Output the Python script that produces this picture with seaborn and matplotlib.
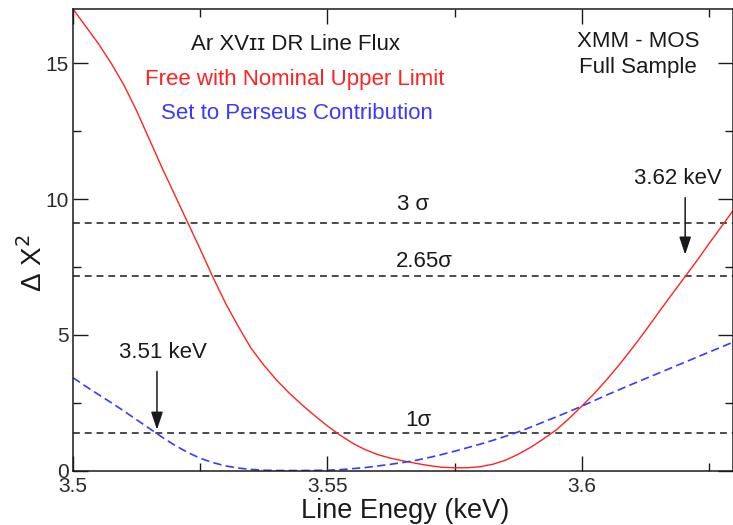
import matplotlib
matplotlib.use("Agg")
import matplotlib.pyplot as plt
import seaborn as sns
import pandas as pd
from matplotlib.ticker import FixedLocator

# ---------------- data ----------------
energy_red = [3.5000, 3.5025, 3.5050, 3.5075, 3.5100, 3.5125, 3.5150, 3.5175,
              3.5200, 3.5225, 3.5250, 3.5275, 3.5300, 3.5325, 3.5350, 3.5375,
              3.5400, 3.5425, 3.5450, 3.5475, 3.5500, 3.5525, 3.5550, 3.5575,
              3.5600, 3.5625, 3.5650, 3.5675, 3.5700, 3.5725, 3.5750, 3.5775,
              3.5800, 3.5825, 3.5850, 3.5875, 3.5900, 3.5925, 3.5950, 3.5975,
              3.6000, 3.6025, 3.6050, 3.6075, 3.6100, 3.6125, 3.6150, 3.6175,
              3.6200, 3.6225, 3.6250, 3.6275, 3.6300]
dchi2_red = [17.0, 16.36, 15.72, 15.0, 14.2, 13.25, 12.2, 11.15,
             10.15, 9.15, 8.15, 7.12, 6.15, 5.3, 4.5, 3.88,
             3.33, 2.85, 2.42, 2.02, 1.64, 1.3, 1.0, 0.76,
             0.58, 0.45, 0.35, 0.26, 0.18, 0.12, 0.1, 0.1,
             0.14, 0.23, 0.38, 0.6, 0.86, 1.17, 1.5, 1.92,
             2.37, 2.85, 3.37, 3.93, 4.53, 5.15, 5.8, 6.44,
             7.07, 7.7, 8.36, 9.0, 9.65]

energy_blue = [3.5000, 3.5025, 3.5050, 3.5075, 3.5100, 3.5125, 3.5150, 3.5175,
               3.5200, 3.5225, 3.5250, 3.5275, 3.5300, 3.5325, 3.5350, 3.5375,
               3.5400, 3.5450, 3.5500, 3.5525, 3.5550, 3.5575, 3.5600, 3.5625,
               3.5650, 3.5675, 3.5700, 3.5725, 3.5750, 3.5775, 3.5800, 3.5825,
               3.5850, 3.5875, 3.5900, 3.5925, 3.5950, 3.5975, 3.6000, 3.6050,
               3.6100, 3.6150, 3.6200, 3.6250, 3.6300]
dchi2_blue = [3.42, 3.1, 2.8, 2.5, 2.19, 1.87, 1.55, 1.23,
              0.93, 0.67, 0.45, 0.29, 0.17, 0.09, 0.04, 0.01,
              0.0, 0.0, 0.01, 0.03, 0.07, 0.11, 0.17, 0.23,
              0.3, 0.38, 0.48, 0.59, 0.71, 0.84, 0.97, 1.11,
              1.26, 1.42, 1.6, 1.79, 1.98, 2.17, 2.37, 2.79,
              3.19, 3.58, 3.97, 4.36, 4.75]

sigma_levels = [9.1, 7.15, 1.37]
sigma_labels = ["3 σ", "2.65σ", "1σ"]

x_ticks = [3.5, 3.55, 3.6]
x_tick_labels = ["3.5", "3.55", "3.6"]
x_minor = [3.525, 3.575, 3.625]
y_ticks = [0, 5, 10, 15]
y_tick_labels = ["0", "5", "10", "15"]
y_minor = [2.5, 7.5, 12.5]

arrow_energies = [3.5165, 3.6203]
arrow_labels = ["3.51 keV", "3.62 keV"]

# ---------------- style ----------------
sns.set_theme(style="ticks")
plt.rcParams["font.family"] = ["Liberation Sans", "DejaVu Sans"]

RED = "#ff2222"
BLUE = "#3a3aff"
INK = "#1a1a1a"

fig = plt.figure(figsize=(7.33, 5.25), dpi=100)
ax = fig.add_axes([0.0996, 0.1038, 0.9004, 0.8791])

df_red = pd.DataFrame({"energy": energy_red, "dchi2": dchi2_red})
df_blue = pd.DataFrame({"energy": energy_blue, "dchi2": dchi2_blue})

sns.lineplot(data=df_red, x="energy", y="dchi2", color=RED, lw=1.0, ax=ax)
sns.lineplot(data=df_blue, x="energy", y="dchi2", color=BLUE, lw=1.2,
             linestyle=(0, (5.0, 2.6)), ax=ax)

for lvl in sigma_levels:
    ax.axhline(lvl, color=INK, lw=1.1, linestyle=(0, (4.5, 3.2)), zorder=1)

ax.set_xlim(3.5, 3.6297)
ax.set_ylim(0, 17)

ax.xaxis.set_major_locator(FixedLocator(x_ticks))
ax.set_xticklabels(x_tick_labels)
ax.xaxis.set_minor_locator(FixedLocator(x_minor))
ax.yaxis.set_major_locator(FixedLocator(y_ticks))
ax.set_yticklabels(y_tick_labels)
ax.yaxis.set_minor_locator(FixedLocator(y_minor))

ax.tick_params(which="both", direction="in", top=True, right=True,
               colors=INK, labelcolor="#2a2a2a", width=1.0)
ax.tick_params(which="major", length=10.5, labelsize=15)
ax.tick_params(axis="x", which="major", pad=5)
ax.tick_params(axis="y", which="major", pad=3)
ax.tick_params(which="minor", length=5.5)
for s in ax.spines.values():
    s.set_linewidth(1.1)
    s.set_color(INK)

ax.set_xlabel("Line Enegy (keV)", fontsize=19.5, color=INK)
ax.set_ylabel("Δ Χ$^2$", fontsize=20, color=INK)
ax.xaxis.label.set_va("center")
ax.yaxis.label.set_va("center")
ax.xaxis.set_label_coords(0.503, -0.087)
ax.yaxis.set_label_coords(-0.0606, 0.45)

# texts
ax.text(3.5438, 15.69, "Ar XVɪɪ DR Line Flux", color=INK, fontsize=16,
        ha="center", va="center")
ax.text(3.5436, 14.42, "Free with Nominal Upper Limit", color=RED,
        fontsize=16, ha="center", va="center")
ax.text(3.5441, 13.15, "Set to Perseus Contribution", color=BLUE,
        fontsize=16, ha="center", va="center")
ax.text(3.6110, 15.8, "XMM - MOS", color=INK, fontsize=16,
        ha="center", va="center")
ax.text(3.6111, 14.83, "Full Sample", color=INK, fontsize=16,
        ha="center", va="center")

sigma_text_pos = [(3.5668, 9.79), (3.5690, 7.69), (3.5678, 1.84)]
for (tx, ty), lab in zip(sigma_text_pos, sigma_labels):
    ax.text(tx, ty, lab, color=INK, fontsize=16, ha="center", va="center")

# arrows
arrow_geom = [(3.5177, 4.34, 3.65, 1.5), (3.6189, 10.75, 10.05, 7.95)]
for e, lab, (lx, ly, y0, y1) in zip(arrow_energies, arrow_labels, arrow_geom):
    ax.text(lx, ly, lab, color=INK, fontsize=16, ha="center", va="center")
    ax.annotate("", xy=(e, y1), xytext=(e, y0),
                arrowprops=dict(arrowstyle="-|>,head_length=0.9,head_width=0.3",
                                color=INK, lw=1.1, shrinkA=0, shrinkB=0))

fig.savefig("out.png", dpi=100)
